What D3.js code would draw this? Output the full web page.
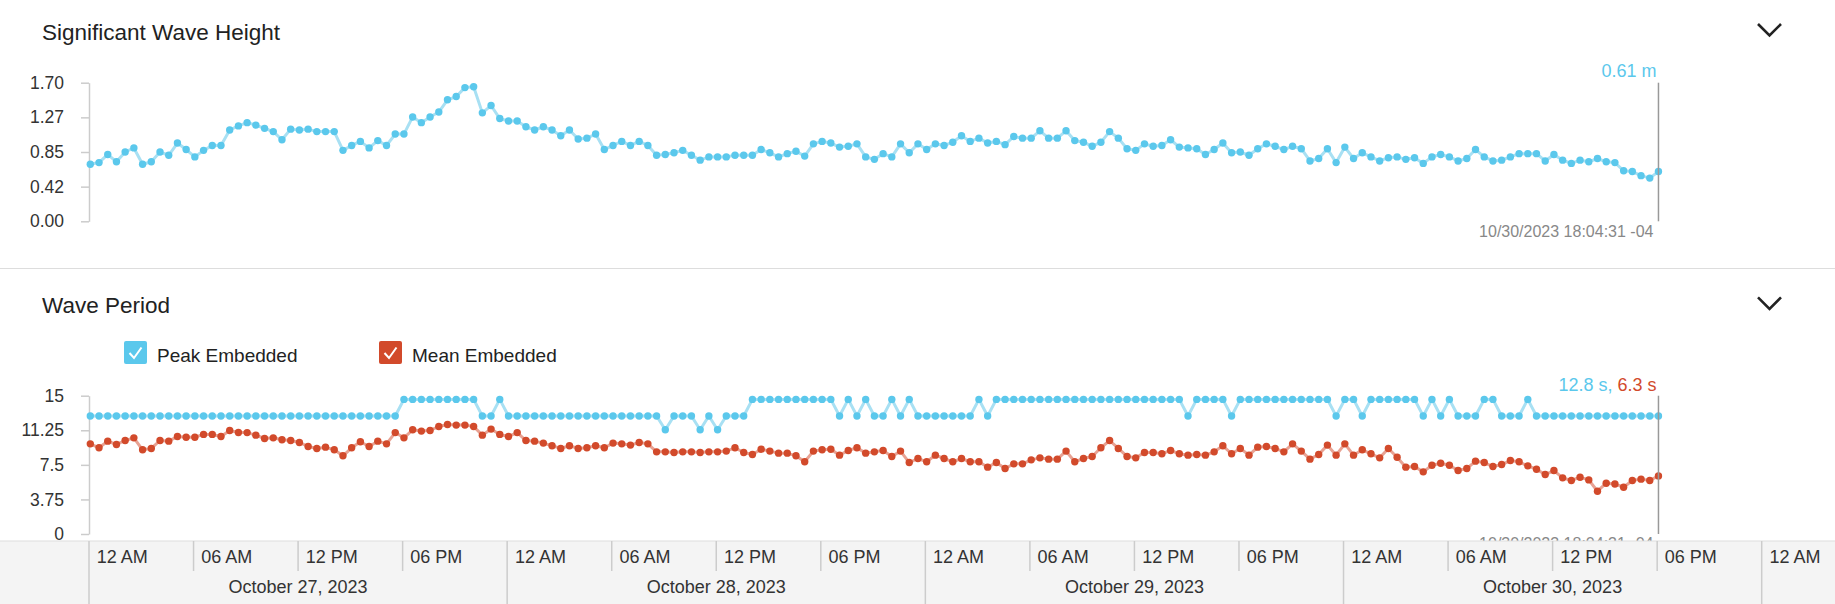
<!DOCTYPE html>
<html>
<head>
<meta charset="utf-8">
<script src="https://cdnjs.cloudflare.com/ajax/libs/d3/7.8.5/d3.min.js"></script>
<style>
  body { margin: 0; background: #fff; }
  svg { display: block; font-family: "Liberation Sans", Arial, sans-serif; }
</style>
</head>
<body>
<svg id="chart"></svg>
<script>

var width = 1835
var height = 604

// readings every 30 minutes, first at 10/27 00:04:31
var firstTime = new Date(2023, 9, 27, 0, 4, 31)
var stepMinutes = 30
var timeDomain = [new Date(2023, 9, 27), new Date(2023, 9, 31)]

var swhValues = [
  0.70, 0.72, 0.82, 0.73, 0.85, 0.90, 0.70, 0.73, 0.85, 0.81,
  0.96, 0.88, 0.79, 0.87, 0.93, 0.93, 1.12, 1.17, 1.21, 1.18,
  1.14, 1.10, 1.00, 1.13, 1.12, 1.13, 1.10, 1.10, 1.10, 0.87,
  0.93, 0.98, 0.90, 0.99, 0.93, 1.07, 1.07, 1.28, 1.21, 1.28,
  1.34, 1.49, 1.53, 1.64, 1.65, 1.33, 1.42, 1.26, 1.23, 1.23,
  1.16, 1.12, 1.16, 1.12, 1.05, 1.12, 1.01, 1.02, 1.07, 0.88,
  0.93, 0.98, 0.93, 0.98, 0.93, 0.81, 0.82, 0.84, 0.87, 0.81,
  0.75, 0.79, 0.79, 0.79, 0.81, 0.81, 0.81, 0.88, 0.84, 0.79,
  0.83, 0.86, 0.80, 0.95, 0.98, 0.96, 0.91, 0.92, 0.95, 0.79,
  0.76, 0.83, 0.79, 0.95, 0.84, 0.95, 0.88, 0.95, 0.93, 0.97,
  1.05, 0.98, 1.02, 0.96, 0.98, 0.94, 1.04, 1.02, 1.02, 1.11,
  1.02, 1.02, 1.11, 0.99, 0.97, 0.92, 0.97, 1.10, 1.02, 0.89,
  0.87, 0.95, 0.92, 0.93, 1.00, 0.91, 0.90, 0.89, 0.82, 0.88,
  0.96, 0.84, 0.85, 0.81, 0.89, 0.95, 0.92, 0.88, 0.92, 0.89,
  0.74, 0.77, 0.89, 0.72, 0.91, 0.77, 0.84, 0.79, 0.74, 0.78,
  0.79, 0.76, 0.78, 0.71, 0.79, 0.82, 0.79, 0.74, 0.77, 0.88,
  0.79, 0.74, 0.75, 0.79, 0.83, 0.83, 0.83, 0.74, 0.82, 0.75,
  0.71, 0.75, 0.73, 0.77, 0.73, 0.72, 0.62, 0.61, 0.56, 0.53,
  0.61
]

var peakValues = [
  12.8, 12.8, 12.8, 12.8, 12.8, 12.8, 12.8, 12.8, 12.8, 12.8,
  12.8, 12.8, 12.8, 12.8, 12.8, 12.8, 12.8, 12.8, 12.8, 12.8,
  12.8, 12.8, 12.8, 12.8, 12.8, 12.8, 12.8, 12.8, 12.8, 12.8,
  12.8, 12.8, 12.8, 12.8, 12.8, 12.8, 14.6, 14.6, 14.6, 14.6,
  14.6, 14.6, 14.6, 14.6, 14.6, 12.8, 12.8, 14.6, 12.8, 12.8,
  12.8, 12.8, 12.8, 12.8, 12.8, 12.8, 12.8, 12.8, 12.8, 12.8,
  12.8, 12.8, 12.8, 12.8, 12.8, 12.8, 11.3, 12.8, 12.8, 12.8,
  11.3, 12.8, 11.3, 12.8, 12.8, 12.8, 14.6, 14.6, 14.6, 14.6,
  14.6, 14.6, 14.6, 14.6, 14.6, 14.6, 12.8, 14.6, 12.8, 14.6,
  12.8, 12.8, 14.6, 12.8, 14.6, 12.8, 12.8, 12.8, 12.8, 12.8,
  12.8, 12.8, 14.6, 12.8, 14.6, 14.6, 14.6, 14.6, 14.6, 14.6,
  14.6, 14.6, 14.6, 14.6, 14.6, 14.6, 14.6, 14.6, 14.6, 14.6,
  14.6, 14.6, 14.6, 14.6, 14.6, 14.6, 12.8, 14.6, 14.6, 14.6,
  14.6, 12.8, 14.6, 14.6, 14.6, 14.6, 14.6, 14.6, 14.6, 14.6,
  14.6, 14.6, 14.6, 12.8, 14.6, 14.6, 12.8, 14.6, 14.6, 14.6,
  14.6, 14.6, 14.6, 12.8, 14.6, 12.8, 14.6, 12.8, 12.8, 12.8,
  14.6, 14.6, 12.8, 12.8, 12.8, 14.6, 12.8, 12.8, 12.8, 12.8,
  12.8, 12.8, 12.8, 12.8, 12.8, 12.8, 12.8, 12.8, 12.8, 12.8,
  12.8
]

var meanValues = [
  9.78, 9.35, 10.07, 9.71, 10.14, 10.43, 9.13, 9.28, 10.14, 10.07,
  10.58, 10.50, 10.50, 10.80, 10.80, 10.58, 11.23, 11.01, 11.00, 10.72,
  10.36, 10.43, 10.22, 10.14, 9.93, 9.49, 9.28, 9.42, 9.13, 8.48,
  9.35, 10.00, 9.49, 10.07, 9.78, 11.00, 10.43, 11.30, 11.16, 11.23,
  11.66, 11.88, 11.81, 11.81, 11.66, 10.72, 11.38, 10.80, 10.58, 11.00,
  10.14, 10.07, 9.86, 9.57, 9.28, 9.57, 9.28, 9.35, 9.57, 9.35,
  9.86, 9.78, 9.64, 9.93, 9.78, 8.91, 8.91, 8.84, 8.91, 8.91,
  8.84, 8.91, 8.91, 8.99, 9.35, 8.84, 8.62, 9.20, 8.99, 8.77,
  8.77, 8.48, 7.83, 8.99, 9.13, 9.20, 8.55, 9.06, 9.35, 8.77,
  8.91, 9.06, 8.41, 8.99, 7.75, 8.19, 7.83, 8.55, 8.19, 7.83,
  8.19, 7.83, 7.83, 7.25, 7.75, 7.10, 7.61, 7.61, 8.04, 8.26,
  8.12, 8.12, 8.99, 7.83, 8.19, 8.41, 9.35, 10.14, 9.28, 8.41,
  8.26, 8.84, 8.84, 8.70, 9.06, 8.70, 8.55, 8.62, 8.55, 8.91,
  9.57, 8.70, 9.28, 8.55, 9.42, 9.49, 9.28, 8.91, 9.78, 8.99,
  8.12, 8.62, 9.64, 8.55, 9.78, 8.55, 9.13, 8.70, 8.26, 9.28,
  8.33, 7.25, 7.32, 6.74, 7.46, 7.68, 7.46, 6.88, 7.10, 7.90,
  7.75, 7.32, 7.53, 7.97, 7.83, 7.39, 7.03, 6.45, 6.88, 6.09,
  5.80, 6.16, 5.87, 4.64, 5.51, 5.43, 5.07, 5.80, 5.95, 5.80,
  6.30
]

var swhTicks = [0, 0.425, 0.85, 1.275, 1.7]
var swhTickLabels = ["0.00", "0.42", "0.85", "1.27", "1.70"]
var periodTicks = [0, 3.75, 7.5, 11.25, 15]
var periodTickLabels = ["0", "3.75", "7.5", "11.25", "15"]

var seriesNames = ["Peak Embedded", "Mean Embedded"]
var dotColors = ["#5bc8ec", "#d24a2b"]
var lineColors = ["#a8e0f3", "#e8a293"]

var times = swhValues.map(function(d, i){ return d3.timeMinute.offset(firstTime, stepMinutes * i) })
var last = times.length - 1

var svg = d3.select('#chart')
            .attr('width', width)
            .attr('height', height)

var xScale = d3.scaleTime()
                .domain(timeDomain)
                .range([89, 1761.7])

var ySwh = d3.scaleLinear()
              .domain([0, 1.7])
              .range([221.3, 82.7])

var yPeriod = d3.scaleLinear()
                .domain([0, 15])
                .range([534, 395.7])

// titles + chevrons
var titles = [["Significant Wave Height", 40], ["Wave Period", 313.3]]
titles.forEach(function(t){
  svg.append('text')
     .attr('x', 42)
     .attr('y', t[1])
     .attr('fill', '#222')
     .style('font-size', '22.5px')
     .text(t[0])
  var cy = t[1] - 16
  svg.append('path')
     .attr('d', 'M1758,' + cy + 'L1769.5,' + (cy + 11.5) + 'L1781,' + cy)
     .attr('fill', 'none')
     .attr('stroke', '#222')
     .attr('stroke-width', 2.6)
})

svg.append('line')
   .attr('x1', 0).attr('x2', width)
   .attr('y1', 268.5).attr('y2', 268.5)
   .attr('stroke', '#ddd')

// legend
seriesNames.forEach(function(name, i){
  var lx = [124, 379][i]
  var lg = svg.append('g').attr('transform', 'translate(' + lx + ',341)')
  lg.append('rect')
    .attr('width', 23).attr('height', 23).attr('rx', 2)
    .attr('fill', dotColors[i])
  lg.append('path')
    .attr('d', 'M5.5,12L10,17L17.5,6.5')
    .attr('fill', 'none')
    .attr('stroke', '#fff')
    .attr('stroke-width', 2)
  lg.append('text')
    .attr('x', 33)
    .attr('y', 20.7)
    .attr('fill', '#222')
    .style('font-size', '19px')
    .text(name)
})

var drawYAxis = function(scale, ticks, labels){
  var g = svg.append('g')
              .attr('transform', 'translate(89,0)')
              .call(d3.axisLeft(scale)
                      .tickValues(ticks)
                      .tickFormat(function(d, i){ return labels[i] })
                      .tickSize(8)
                      .tickSizeOuter(0)
                      .tickPadding(17))
  g.select('.domain').attr('stroke', '#ccc').attr('stroke-width', 1.5)
  g.selectAll('.tick line').attr('stroke', '#ccc').attr('stroke-width', 1.5)
  g.selectAll('.tick text')
   .attr('fill', '#333')
   .style('font-size', '17.5px')
   .style('font-family', '"Liberation Sans", Arial, sans-serif')
}

drawYAxis(ySwh, swhTicks, swhTickLabels)
drawYAxis(yPeriod, periodTicks, periodTickLabels)

var drawSeries = function(values, yScale, ci){
  var line = d3.line()
                .x(function(d, i){ return xScale(times[i]) })
                .y(function(d){ return yScale(d) })
  svg.append('path')
     .datum(values)
     .attr('d', line)
     .attr('fill', 'none')
     .attr('stroke', lineColors[ci])
     .attr('stroke-width', 3)
     .attr('stroke-linejoin', 'round')
  svg.append('g')
     .selectAll('circle')
     .data(values)
     .enter()
     .append('circle')
     .attr('cx', function(d, i){ return xScale(times[i]) })
     .attr('cy', function(d){ return yScale(d) })
     .attr('r', 3.7)
     .attr('fill', dotColors[ci])
}

drawSeries(swhValues, ySwh, 0)
drawSeries(peakValues, yPeriod, 0)
drawSeries(meanValues, yPeriod, 1)

// cursor at the latest reading
var cx = xScale(times[last])
var stamp = d3.timeFormat('%m/%d/%Y %H:%M:%S')(times[last]) + ' -04'

var cursor = function(yScale, domainTop){
  svg.append('line')
     .attr('x1', cx).attr('x2', cx)
     .attr('y1', yScale(domainTop)).attr('y2', yScale(0))
     .attr('stroke', '#999')
     .attr('stroke-width', 1.5)
  svg.append('text')
     .attr('x', cx - 5)
     .attr('y', yScale(0) + 15.4)
     .attr('text-anchor', 'end')
     .attr('fill', '#888')
     .style('font-size', '16px')
     .text(stamp)
}
cursor(ySwh, 1.7)
cursor(yPeriod, 15)

svg.append('text')
   .attr('x', cx - 2)
   .attr('y', 77.3)
   .attr('text-anchor', 'end')
   .attr('fill', dotColors[0])
   .style('font-size', '18px')
   .text(swhValues[last].toFixed(2) + ' m')

var pLabel = svg.append('text')
                .attr('x', cx - 2)
                .attr('y', 390.7)
                .attr('text-anchor', 'end')
                .style('font-size', '18px')
                .style('white-space', 'pre')
pLabel.append('tspan').attr('fill', dotColors[0]).text(peakValues[last].toFixed(1) + ' s, ')
pLabel.append('tspan').attr('fill', dotColors[1]).text(meanValues[last].toFixed(1) + ' s')

// time band at the bottom
var band = svg.append('g')
band.append('rect')
    .attr('x', 0).attr('y', 541)
    .attr('width', width).attr('height', height - 541)
    .attr('fill', '#f4f4f4')
band.append('line')
    .attr('x1', 0).attr('x2', width)
    .attr('y1', 541).attr('y2', 541)
    .attr('stroke', '#ddd')

var hourTicks = xScale.ticks(d3.timeHour.every(6))
band.selectAll('.hour')
    .data(hourTicks)
    .enter()
    .append('line')
    .attr('x1', function(d){ return xScale(d) })
    .attr('x2', function(d){ return xScale(d) })
    .attr('y1', 541)
    .attr('y2', function(d){ return d.getHours() == 0 ? height : 571 })
    .attr('stroke', '#ccc')
    .attr('stroke-width', 1.5)

band.selectAll('.hourLabel')
    .data(hourTicks)
    .enter()
    .append('text')
    .attr('x', function(d){ return xScale(d) + 7.7 })
    .attr('y', 563.3)
    .attr('fill', '#333')
    .style('font-size', '18px')
    .text(function(d){ return d3.timeFormat('%I %p')(d) })

var days = d3.timeDay.range(timeDomain[0], timeDomain[1])
band.selectAll('.dayLabel')
    .data(days)
    .enter()
    .append('text')
    .attr('x', function(d){ return xScale(d3.timeHour.offset(d, 12)) })
    .attr('y', 593.3)
    .attr('text-anchor', 'middle')
    .attr('fill', '#333')
    .style('font-size', '18px')
    .text(function(d){ return d3.timeFormat('%B %-d, %Y')(d) })

</script>
</body>
</html>
